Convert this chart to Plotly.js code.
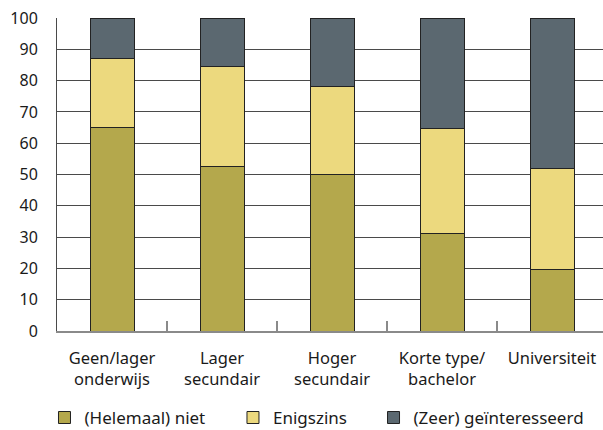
<!DOCTYPE html>
<html>
<head>
<meta charset="utf-8">
<script src="https://cdn.plot.ly/plotly-3.0.1.min.js"></script>
<style>html,body{margin:0;padding:0;background:#fff;overflow:hidden}</style>
</head>
<body>
<div id="chart" style="width:603px;height:430px"></div>
<script>
const categories = ["Geen/lager<br>onderwijs", "Lager<br>secundair", "Hoger<br>secundair", "Korte type/<br>bachelor", "Universiteit"];
const niet = [65, 52.5, 50, 31.3, 19.8];
const enigszins = [22, 32, 28, 33.5, 32];
const zeer = [13, 15.5, 22, 35.2, 48.2];
const seriesNames = ["(Helemaal) niet", "Enigszins", "(Zeer) geïnteresseerd"];
const yTicks = [0, 10, 20, 30, 40, 50, 60, 70, 80, 90, 100];

const colors = ["#b4a84c", "#ecd97e", "#5b6870"];
const fam = "Noto Sans, Open Sans, sans-serif";
const txt = "#1a1a1a";
const series = [niet, enigszins, zeer];
const legendIds = ["legend", "legend2", "legend3"];
const legendX = [-0.0229, 0.3223, 0.5797];

const traces = series.map((vals, i) => ({
  type: "bar",
  x: categories,
  y: vals,
  name: seriesNames[i],
  legend: legendIds[i],
  marker: {color: colors[i], line: {color: "#222", width: 1}},
  hoverinfo: "skip"
}));

function legendAt(x) {
  return {
    x: x, xref: "paper", xanchor: "left",
    y: 0.028, yref: "container", yanchor: "middle",
    orientation: "h", font: {family: fam, size: 17, color: txt},
    bgcolor: "rgba(0,0,0,0)",
    itemwidth: 30
  };
}

const layout = {
  width: 603, height: 430,
  margin: {l: 57, r: 0, t: 18, b: 99},
  paper_bgcolor: "#fff", plot_bgcolor: "#fff",
  barmode: "stack",
  bargap: 0.6,
  font: {family: fam, size: 16, color: txt},
  showlegend: true,
  xaxis: {
    type: "category",
    range: [-0.5, 4.5 - 4 / 110],
    tickson: "boundaries",
    ticks: "inside", ticklen: 10, tickwidth: 1.5, tickcolor: "#8a8a8a",
    showline: true, linecolor: "#8a8a8a", linewidth: 2,
    showgrid: false, zeroline: false,
    tickfont: {family: fam, size: 16.5, color: txt},
    ticklabelstandoff: 11,
    automargin: false,
    fixedrange: true
  },
  yaxis: {
    range: [0, 100],
    tickvals: yTicks,
    ticktext: yTicks.map(String),
    showgrid: true, gridcolor: "#4a4a4a", gridwidth: 1,
    showline: true, linecolor: "#4a4a4a", linewidth: 1,
    zeroline: false,
    ticks: "",
    ticklabelstandoff: 15,
    tickfont: {family: fam, size: 16, color: txt},
    automargin: false,
    fixedrange: true
  },
  legend: legendAt(legendX[0]),
  legend2: legendAt(legendX[1]),
  legend3: legendAt(legendX[2])
};

Plotly.newPlot("chart", traces, layout, {displayModeBar: false, staticPlot: true});
</script>
</body>
</html>
